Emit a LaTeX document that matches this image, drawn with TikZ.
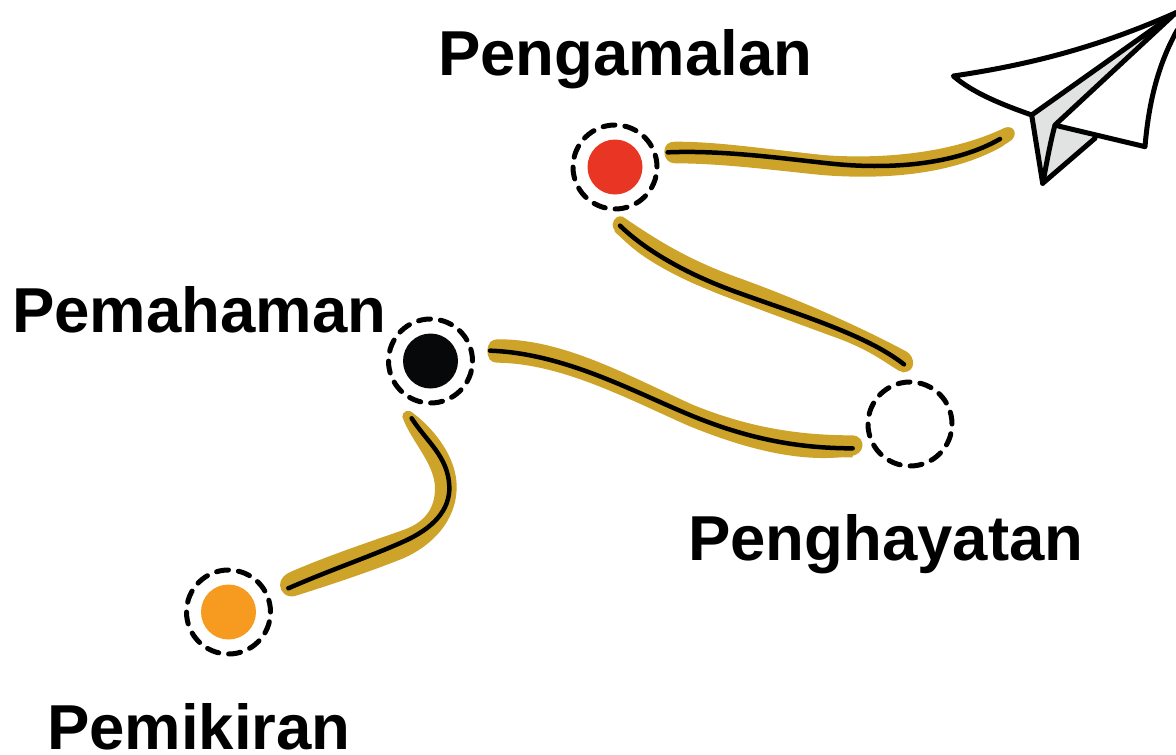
\documentclass[tikz,border=0pt]{standalone}
\usepackage{fontspec}
\setmainfont{Liberation Sans}
\definecolor{gold}{HTML}{CDA429}
\definecolor{dotorange}{HTML}{F69A20}
\definecolor{dotred}{HTML}{E93524}
\definecolor{dotblack}{HTML}{07080A}
\definecolor{planegrey}{HTML}{E1E3E2}
\tikzset{
  ring/.style={circle,draw=black,fill=none,line width=5pt,outer sep=0pt,minimum size=84pt,inner sep=0pt,line cap=round,dash pattern=on 12pt off 10pt},
  dot/.style={circle,minimum size=55pt,inner sep=0pt,outer sep=0pt,draw=none},
  lbl/.style={anchor=base west,inner sep=0pt,font=\fontsize{63.5}{70}\selectfont\bfseries,text=black},
  ink/.style={draw=black,line width=4.5pt,line cap=round,line join=round},
  under/.style={draw=gold,line cap=butt,line join=round},
  blob/.style={fill=gold,draw=none},
  plane/.style={draw=black,line width=5pt,line join=round,line cap=round},
}
\begin{document}
\begin{tikzpicture}[x=1pt,y=-1pt]
\useasboundingbox (0,0) rectangle (1176,755);
\fill[white] (0,0) rectangle (1176,755);

% stroke 1
\begin{scope}[shift={(170,300)},scale=1/3]
\fill[blob] (697,350) .. controls (697,335) and (715,325) .. (730,340) .. controls (790,385) and (860,470) .. (860,560) .. controls (860,660) and (790,735) .. (700,775) .. controls (600,815) and (480,855) .. (375,888) .. controls (350,895) and (330,875) .. (330,855) .. controls (330,835) and (345,822) .. (370,812) .. controls (480,765) and (600,725) .. (700,690) .. controls (770,665) and (795,620) .. (795,565) .. controls (795,490) and (720,420) .. (697,350) -- cycle;
\coordinate (a1) at (355,865);
\coordinate (b1) at (725,355);
\draw[ink] (a1) .. controls (480,810) and (600,770) .. (700,725) .. controls (790,685) and (840,630) .. (838,560) .. controls (835,470) and (770,425) .. (b1);
\end{scope}
% stroke 2
\begin{scope}[shift={(480,330)},scale=1/3]
\fill[blob] (50,28) .. controls (250,25) and (450,140) .. (640,225) .. controls (800,290) and (950,316) .. (1115,316) .. controls (1140,316) and (1150,335) .. (1147,350) .. controls (1145,365) and (1130,376) .. (1115,378) .. controls (1000,395) and (850,380) .. (620,285) .. controls (430,200) and (240,100) .. (50,98) .. controls (30,98) and (22,80) .. (22,62) .. controls (22,42) and (35,28) .. (50,28) -- cycle;
\coordinate (a2) at (30,62);
\coordinate (b2) at (1118,355);
\draw[under,line width=18pt] (a2) .. controls (250,70) and (450,180) .. (630,255) .. controls (800,325) and (950,355) .. (b2);
\draw[ink] (a2) .. controls (250,70) and (450,180) .. (630,255) .. controls (800,325) and (950,355) .. (b2);
\end{scope}
% stroke 3
\begin{scope}[shift={(600,205)},scale=1/3]
\fill[blob] (38,58) .. controls (40,40) and (55,30) .. (68,35) .. controls (150,90) and (250,160) .. (420,220) .. controls (600,285) and (780,365) .. (920,440) .. controls (945,455) and (950,500) .. (910,502) .. controls (880,495) and (830,440) .. (700,395) .. controls (550,340) and (400,285) .. (280,235) .. controls (180,190) and (100,140) .. (60,92) .. controls (45,80) and (38,70) .. (38,58) -- cycle;
\coordinate (b3) at (60,62);
\coordinate (a3) at (912,478);
\draw[under,line width=16pt] (b3) .. controls (130,130) and (250,205) .. (420,265) .. controls (600,330) and (800,390) .. (a3);
\draw[ink] (b3) .. controls (130,130) and (250,205) .. (420,265) .. controls (600,330) and (800,390) .. (a3);
\end{scope}
% stroke 4
\begin{scope}[shift={(655,115)},scale=1/3]
\fill[blob] (28,110) .. controls (28,90) and (40,80) .. (60,80) .. controls (200,80) and (350,105) .. (500,120) .. controls (700,135) and (900,110) .. (1050,38) .. controls (1075,30) and (1090,55) .. (1070,75) .. controls (950,160) and (750,200) .. (500,180) .. controls (350,165) and (200,145) .. (60,145) .. controls (40,145) and (28,130) .. (28,110) -- cycle;
\coordinate (a4) at (38,112);
\coordinate (b4) at (1035,72);
\draw[under,line width=15pt] (a4) .. controls (200,105) and (380,130) .. (520,145) .. controls (700,165) and (900,150) .. (b4);
\draw[ink] (a4) .. controls (200,105) and (380,130) .. (520,145) .. controls (700,165) and (900,150) .. (b4);
\end{scope}

% stations
\node[dot,fill=dotorange] (d1) at (228.5,612) {};
\node[dot,fill=dotblack] (d2) at (430.5,361) {};
\node[dot,fill=dotred] (d4) at (615,167) {};
\node[ring] (r1) at (d1) {};
\node[ring] (r2) at (d2) {};
\node[ring] (r3) at (910,424) {};
\node[ring] (r4) at (d4) {};

% labels
\node[lbl] (t4) at (438,75) {Pengamalan};
\node[lbl] (t2) at (12,332) {Pemahaman};
\node[lbl] (t3) at (688,560) {Penghayatan};
\node[lbl] (t1) at (47,749) {Pemikiran};

% paper plane
\begin{scope}[shift={(940,0)},scale=1/3]
\fill[planegrey] (275,345) -- (708,38) -- (345,375) -- (308,550) -- cycle;
\fill[planegrey] (345,375) -- (308,550) -- (465,415) -- cycle;
\draw[plane] (708,38) .. controls (500,130) and (300,190) .. (40,228) .. controls (100,280) and (190,315) .. (275,345);
\draw[plane] (275,345) -- (708,38) -- (345,375) .. controls (330,430) and (320,490) .. (308,550) -- (275,345);
\draw[plane] (308,550) -- (465,415);
\draw[plane] (355,378) -- (615,440) .. controls (625,320) and (650,200) .. (712,90);
\end{scope}
\end{tikzpicture}
\end{document}
